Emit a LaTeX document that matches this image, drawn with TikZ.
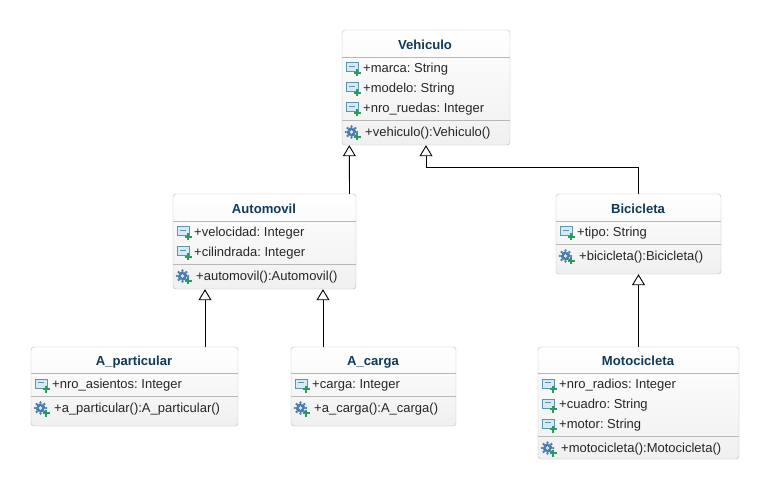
\documentclass[tikz,border=0pt]{standalone}
\usepackage{fontspec}
\setmainfont{Liberation Sans}
\usetikzlibrary{arrows.meta}
\definecolor{namecolor}{HTML}{0F3A5A}
\definecolor{iconblue}{HTML}{5C96AE}
\definecolor{iconfill}{HTML}{D5EAF2}
\definecolor{gearblue}{HTML}{4A7CB2}
\definecolor{plusgreen}{HTML}{2E9A5A}

\tikzset{
    classbox/.style={draw=black!28, rounded corners=3pt, top color=white, bottom color=black!6, inner sep=0pt},
    divider/.style={draw=black!28, line width=0.8pt},
    classname/.style={font=\fontsize{13.1}{15}\selectfont\bfseries, text=namecolor, inner sep=0pt, text height=10pt, text depth=3pt},
    member/.style={font=\fontsize{13}{15}\selectfont\frenchspacing, text=black!85, anchor=west, inner sep=0pt, text height=10pt, text depth=3pt},
    inherit/.style={-{Triangle[open, length=11pt, width=13pt, fill=white]}, line width=0.9pt},
    attricon/.pic={
        \draw[draw=iconblue, fill=iconfill, line width=1pt] (-6,-5) rectangle (6,4);
        \draw[draw=iconblue, line width=0.9pt] (-3,-1.5) -- (3,-1.5);
        \draw[draw=plusgreen, line width=2.2pt] (1.5,5) -- (8.5,5) (5,1.5) -- (5,8.5);
    },
    opericon/.pic={
        \fill[gearblue] (-0.5,0) circle (4.8);
        \foreach \a in {0,45,...,315}
            \fill[gearblue] ([shift={(-0.5,0)}]\a:5.6) circle (1.3);
        \fill[iconfill] (-0.5,0) circle (1.8);
        \foreach \a in {20,110,200,290}
            \fill[iconfill] ([shift={(-0.5,0)}]\a:4.4) circle (0.7);
        \draw[draw=plusgreen, line width=2.2pt] (1.5,5) -- (8.5,5) (5,1.5) -- (5,8.5);
    }
}

\begin{document}
\begin{tikzpicture}[x=1pt, y=-1pt]
    \useasboundingbox (0,0) rectangle (769,489);

    \node[classbox, minimum width=168, minimum height=115] (Vehiculo) at (426,87.5) {};
    \node[classbox, minimum width=183, minimum height=95] (Automovil) at (264.5,241.5) {};
    \node[classbox, minimum width=165, minimum height=80] (Bicicleta) at (638.5,234) {};
    \node[classbox, minimum width=207, minimum height=79] (Aparticular) at (134.5,386.5) {};
    \node[classbox, minimum width=165, minimum height=79] (Acarga) at (373.5,386.5) {};
    \node[classbox, minimum width=201, minimum height=112] (Motocicleta) at (638.5,403) {};

    \draw[divider] (Vehiculo.west |- 0,57) -- (Vehiculo.east |- 0,57);
    \draw[divider] (Vehiculo.west |- 0,120) -- (Vehiculo.east |- 0,120);
    \draw[divider] (Automovil.west |- 0,221) -- (Automovil.east |- 0,221);
    \draw[divider] (Automovil.west |- 0,264) -- (Automovil.east |- 0,264);
    \draw[divider] (Bicicleta.west |- 0,221) -- (Bicicleta.east |- 0,221);
    \draw[divider] (Bicicleta.west |- 0,244) -- (Bicicleta.east |- 0,244);
    \draw[divider] (Aparticular.west |- 0,373.5) -- (Aparticular.east |- 0,373.5);
    \draw[divider] (Aparticular.west |- 0,396.5) -- (Aparticular.east |- 0,396.5);
    \draw[divider] (Acarga.west |- 0,373.5) -- (Acarga.east |- 0,373.5);
    \draw[divider] (Acarga.west |- 0,396.5) -- (Acarga.east |- 0,396.5);
    \draw[divider] (Motocicleta.west |- 0,373.5) -- (Motocicleta.east |- 0,373.5);
    \draw[divider] (Motocicleta.west |- 0,436.5) -- (Motocicleta.east |- 0,436.5);

    \node[classname] (VehiculoName) at (425,45.8) {Vehiculo};
    \node[classname] (AutomovilName) at (264,209.8) {Automovil};
    \node[classname] (BicicletaName) at (638,209.8) {Bicicleta};
    \node[classname] (AparticularName) at (134,361.8) {A\_particular};
    \node[classname] (AcargaName) at (373,361.8) {A\_carga};
    \node[classname] (MotocicletaName) at (638,361.8) {Motocicleta};

    \pic at (352,68) {attricon};
    \pic at (352,88) {attricon};
    \pic at (352,108) {attricon};
    \pic at (352,132) {opericon};
    \node[member] (marca) at (363,69) {+marca: String};
    \node[member] (modelo) at (363,89) {+modelo: String};
    \node[member] (nroruedas) at (363,109) {+nro\_ruedas: Integer};
    \node[member] (vehiculo) at (365,133) {+vehiculo():Vehiculo()};

    \pic at (183,232) {attricon};
    \pic at (183,252) {attricon};
    \pic at (183,276) {opericon};
    \node[member] (velocidad) at (194,233) {+velocidad: Integer};
    \node[member] (cilindrada) at (194,253) {+cilindrada: Integer};
    \node[member] (automovil) at (196,277) {+automovil():Automovil()};

    \pic at (566,232) {attricon};
    \pic at (566,256) {opericon};
    \node[member] (tipo) at (577,233) {+tipo: String};
    \node[member] (bicicleta) at (579,257) {+bicicleta():Bicicleta()};

    \pic at (41,384) {attricon};
    \pic at (41,408) {opericon};
    \node[member] (nroasientos) at (52,384.5) {+nro\_asientos: Integer};
    \node[member] (aparticular) at (54,408.5) {+a\_particular():A\_particular()};

    \pic at (301,384) {attricon};
    \pic at (301,408) {opericon};
    \node[member] (carga) at (312,384.5) {+carga: Integer};
    \node[member] (acarga) at (314,408.5) {+a\_carga():A\_carga()};

    \pic at (548,384) {attricon};
    \pic at (548,404) {attricon};
    \pic at (548,424) {attricon};
    \pic at (548,448) {opericon};
    \node[member] (nroradios) at (559,384.5) {+nro\_radios: Integer};
    \node[member] (cuadro) at (559,404.5) {+cuadro: String};
    \node[member] (motor) at (559,424.5) {+motor: String};
    \node[member] (motocicleta) at (561,448.5) {+motocicleta():Motocicleta()};

    \draw[inherit] ([xshift=85pt]Automovil.north) -- ([xshift=7.5pt]Vehiculo.south west);
    \draw[inherit] (Bicicleta.north) -- ++(0,-26) -| (Vehiculo.south);
    \draw[inherit] ([xshift=70.5pt]Aparticular.north) -- ([xshift=-59.5pt]Automovil.south);
    \draw[inherit] ([xshift=-50.5pt]Acarga.north) -- ([xshift=58.5pt]Automovil.south);
    \draw[inherit] (Motocicleta.north) -- (Bicicleta.south);
\end{tikzpicture}
\end{document}
